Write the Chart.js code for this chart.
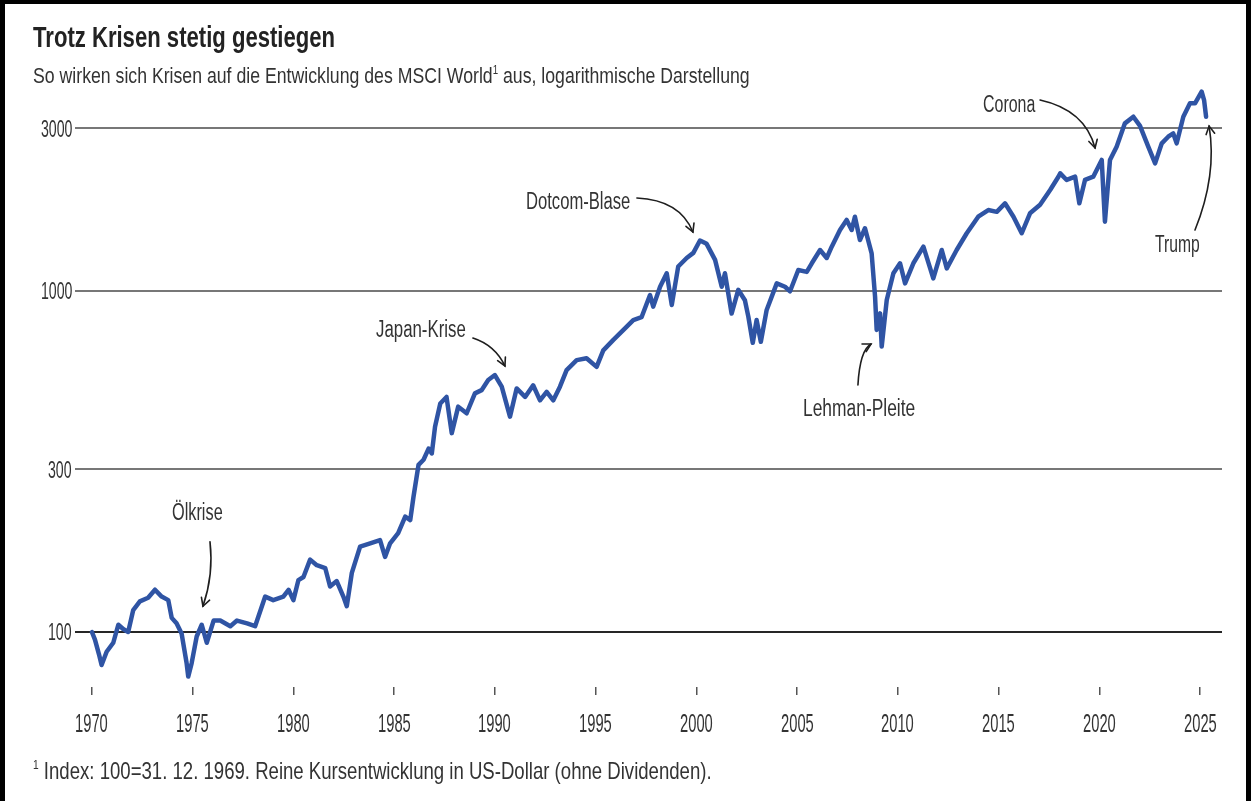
<!DOCTYPE html>
<html lang="de">
<head>
<meta charset="utf-8">
<title>Trotz Krisen stetig gestiegen</title>
<script src="https://cdn.jsdelivr.net/npm/chart.js"></script>
<style>
  html, body { margin: 0; padding: 0; background: #fff; }
  #page { position: relative; width: 1253px; height: 801px; overflow: hidden; font-family: "Liberation Sans", Arial, sans-serif; color: #333; }
  #frame { position: absolute; left: 0; top: 0; width: 1251px; height: 801px; border-left: 5px solid #000; border-top: 4px solid #000; border-right: 5px solid #000; box-sizing: border-box; }
  canvas { position: absolute; left: 0; top: 0; }
  .txt { position: absolute; white-space: nowrap; line-height: 1; transform-origin: 0 0; }
  .txt sup { font-size: 55%; vertical-align: 0; position: relative; top: -0.75em; }
  #title { font-weight: bold; color: #222; }
</style>
</head>
<body>
<div id="page">
  <canvas id="myChart" width="1253" height="801"></canvas>
  <div id="frame"></div>
  <div id="title" class="txt">Trotz Krisen stetig gestiegen</div>
  <div id="subtitle" class="txt">So wirken sich Krisen auf die Entwicklung des MSCI World<sup>1</sup> aus, logarithmische Darstellung</div>
  <div id="footnote" class="txt"><sup>1</sup> Index: 100=31. 12. 1969. Reine Kursentwicklung in US-Dollar (ohne Dividenden).</div>
</div>
<script>
// MSCI World, Kursindex (100 = 31.12.1969)
const dates = [
  1970.00, 1970.15, 1970.35, 1970.48, 1970.73, 1971.06, 1971.31, 1971.55, 1971.80, 1972.05,
  1972.38, 1972.79, 1973.13, 1973.46, 1973.79, 1973.96, 1974.20, 1974.45, 1974.70, 1974.78,
  1974.95, 1975.20, 1975.45, 1975.70, 1976.04, 1976.37, 1976.87, 1977.20, 1977.70, 1978.10,
  1978.60, 1979.00, 1979.50, 1979.76, 1980.00, 1980.25, 1980.50, 1980.83, 1981.16, 1981.58,
  1981.82, 1982.15, 1982.48, 1982.65, 1982.90, 1983.31, 1983.81, 1984.30, 1984.55, 1984.80,
  1985.20, 1985.55, 1985.80, 1985.96, 1986.21, 1986.46, 1986.71, 1986.87, 1987.03, 1987.29,
  1987.60, 1987.86, 1988.18, 1988.60, 1989.01, 1989.34, 1989.67, 1990.00, 1990.34, 1990.75,
  1991.08, 1991.50, 1991.90, 1992.24, 1992.57, 1992.90, 1993.23, 1993.56, 1994.06, 1994.55,
  1995.05, 1995.38, 1995.88, 1996.37, 1996.87, 1997.28, 1997.70, 1997.86, 1998.20, 1998.53,
  1998.78, 1999.10, 1999.52, 1999.85, 2000.18, 2000.51, 2000.93, 2001.26, 2001.42, 2001.75,
  2002.08, 2002.41, 2002.58, 2002.80, 2002.99, 2003.20, 2003.49, 2003.99, 2004.40, 2004.65,
  2005.06, 2005.48, 2005.73, 2006.14, 2006.47, 2006.72, 2007.13, 2007.46, 2007.71, 2007.87,
  2008.12, 2008.37, 2008.70, 2008.87, 2008.95, 2009.12, 2009.20, 2009.45, 2009.78, 2010.11,
  2010.36, 2010.77, 2011.27, 2011.76, 2012.18, 2012.43, 2012.92, 2013.42, 2013.99, 2014.49,
  2014.91, 2015.32, 2015.74, 2016.15, 2016.56, 2017.06, 2017.56, 2017.97, 2018.06, 2018.38,
  2018.80, 2019.01, 2019.29, 2019.70, 2020.12, 2020.28, 2020.53, 2020.86, 2021.27, 2021.69,
  2022.02, 2022.43, 2022.77, 2023.10, 2023.42, 2023.67, 2023.84, 2024.17, 2024.50, 2024.75,
  2025.08, 2025.20, 2025.30
];
const msciWorld = [
  100, 95, 86, 80, 87.5, 93, 105, 102, 100, 116,
  123, 126, 133, 127, 124, 110, 106, 99, 81, 74,
  81, 97, 105, 93, 108, 108, 104, 108, 106, 104,
  127, 124, 127, 133, 124, 142, 145, 163, 157, 154,
  136, 141, 127, 119, 149, 178, 182, 186, 166, 182,
  195, 218, 213, 249, 309, 320, 345, 334, 400, 468,
  489, 383, 458, 438, 501, 512, 548, 567, 524, 428,
  518, 489, 529, 478, 506, 478, 524, 586, 627, 635,
  599, 670, 719, 768, 822, 838, 973, 900, 1029, 1127,
  910, 1180, 1250, 1294, 1406, 1375, 1234, 1029, 1127, 859,
  1008, 940, 841, 705, 822, 710, 880, 1053, 1029, 998,
  1152, 1138, 1206, 1319, 1250, 1349, 1510, 1616, 1510, 1652,
  1411, 1528, 1290, 963, 769, 860, 687, 941, 1127, 1206,
  1053, 1206, 1349, 1089, 1319, 1165, 1319, 1477, 1652, 1728,
  1707, 1808, 1652, 1477, 1690, 1790, 1978, 2164, 2214, 2117,
  2164, 1808, 2117, 2164, 2423, 1597, 2423, 2650, 3102, 3245,
  3050, 2650, 2368, 2711, 2835, 2899, 2711, 3245, 3552, 3552,
  3841, 3632, 3245
];
const tickYears = [1970, 1975, 1980, 1985, 1990, 1995, 2000, 2005, 2010, 2015, 2020, 2025];
const tickValues = [100, 300, 1000, 3000];

// crisis labels, arrows given as [year, index] start / bend / tip
const notes = [
  { text: 'Ölkrise',       left: 172,  base: 520, w: 51,  arrow: [[1975.86, 184], [1976.05, 147], [1975.51, 119]] },
  { text: 'Japan-Krise',   left: 376,  base: 337, w: 90,  arrow: [[1988.91, 728], [1990.0, 694], [1990.50, 603]] },
  { text: 'Dotcom-Blase',  left: 526,  base: 209, w: 104, arrow: [[1997.05, 1874], [1999.19, 1849], [1999.83, 1489]] },
  { text: 'Lehman-Pleite', left: 803,  base: 416, w: 112, arrow: [[2008.02, 530], [2008.12, 671], [2008.67, 699]] },
  { text: 'Corona',        left: 983,  base: 112, w: 52,  arrow: [[2017.06, 3632], [2019.29, 3395], [2019.79, 2627]] },
  { text: 'Trump',         left: 1155, base: 252, w: 45,  arrow: [[2024.75, 1510], [2025.85, 2189], [2025.45, 3046]] }
];

const xMin = 1969.16, xMax = 2026.09;
const yMin = 68.97, yMax = 4019.6;

const arrowPlugin = {
  id: 'arrows',
  afterDatasetsDraw(chart) {
    const ctx = chart.ctx, sx = chart.scales.x, sy = chart.scales.y;
    const px = p => [sx.getPixelForValue(p[0]), sy.getPixelForValue(p[1])];
    ctx.save();
    ctx.strokeStyle = '#1e1e1e';
    ctx.lineWidth = 1.6;
    ctx.lineCap = 'round';
    notes.forEach(n => {
      const a = px(n.arrow[0]), c = px(n.arrow[1]), b = px(n.arrow[2]);
      ctx.beginPath();
      ctx.moveTo(a[0], a[1]);
      ctx.quadraticCurveTo(c[0], c[1], b[0], b[1]);
      ctx.stroke();
      const ang = Math.atan2(b[1] - c[1], b[0] - c[0]);
      ctx.beginPath();
      ctx.moveTo(b[0] - 9 * Math.cos(ang - 0.5), b[1] - 9 * Math.sin(ang - 0.5));
      ctx.lineTo(b[0], b[1]);
      ctx.lineTo(b[0] - 9 * Math.cos(ang + 0.5), b[1] - 9 * Math.sin(ang + 0.5));
      ctx.stroke();
    });
    ctx.restore();
  }
};

const myChart = new Chart(document.getElementById('myChart'), {
  type: 'line',
  data: {
    datasets: [{
      label: 'MSCI World',
      data: dates.map((d, i) => ({ x: d, y: msciWorld[i] })),
      borderColor: '#2f54a4',
      borderWidth: 4.5,
      pointRadius: 0,
      tension: 0,
      borderJoinStyle: 'round',
      borderCapStyle: 'round'
    }]
  },
  options: {
    responsive: false,
    animation: false,
    devicePixelRatio: 1,
    layout: { padding: { top: 85, right: 31, bottom: 0, left: 0 } },
    plugins: { legend: { display: false }, tooltip: { enabled: false } },
    scales: {
      x: {
        type: 'linear',
        bounds: 'data',
        min: xMin,
        max: xMax,
        afterBuildTicks: s => { s.ticks = tickYears.map(v => ({ value: v })); },
        afterFit: s => { s.height = 114; },
        border: { display: false },
        grid: { drawOnChartArea: false, drawTicks: true, tickLength: 8, color: '#555', lineWidth: 1.5 },
        ticks: { display: false }
      },
      y: {
        type: 'logarithmic',
        bounds: 'data',
        min: yMin,
        max: yMax,
        afterBuildTicks: s => { s.ticks = tickValues.map(v => ({ value: v })); },
        afterFit: s => { s.width = 75; },
        border: { display: false },
        grid: {
          drawTicks: false,
          lineWidth: 2,
          color: c => (c.tick && c.tick.value === 100) ? '#262626' : '#777'
        },
        ticks: { display: false }
      }
    }
  },
  plugins: [arrowPlugin]
});

// text is set in a narrow cut in the original, so squeeze it horizontally
const page = document.getElementById('page');
function place(el, o) {
  el.style.fontSize = o.size + 'px';
  el.style.top = (o.base - 0.8465 * o.size) + 'px';
  const nat = el.offsetWidth;
  const s = o.scale || (o.w / nat);
  const w = nat * s;
  let left = o.left;
  if (o.cx !== undefined) left = o.cx - w / 2;
  if (o.right !== undefined) left = o.right - w;
  el.style.left = left + 'px';
  el.style.transform = 'scaleX(' + s + ')';
}
function addText(str, cls) {
  const el = document.createElement('div');
  el.className = 'txt' + (cls ? ' ' + cls : '');
  el.textContent = str;
  page.appendChild(el);
  return el;
}

place(document.getElementById('title'), { left: 33, base: 47, size: 30, w: 302 });
place(document.getElementById('subtitle'), { left: 33, base: 84, size: 22, w: 717 });
place(document.getElementById('footnote'), { left: 33, base: 779, size: 24, w: 679 });

const sx = myChart.scales.x, sy = myChart.scales.y;
const probe = addText('1970');
probe.style.fontSize = '25px';
const digitScale = 33 / probe.offsetWidth;
page.removeChild(probe);

tickYears.forEach(v => {
  place(addText(String(v)), { cx: sx.getPixelForValue(v), base: 732, size: 25, scale: digitScale });
});
tickValues.forEach(v => {
  place(addText(String(v)), { right: myChart.chartArea.left - 3, base: sy.getPixelForValue(v) + 0.358 * 24, size: 24, scale: digitScale });
});
notes.forEach(n => {
  place(addText(n.text), { left: n.left, base: n.base, size: 23, w: n.w });
});
</script>
</body>
</html>
